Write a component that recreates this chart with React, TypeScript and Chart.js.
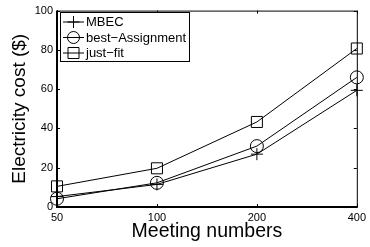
import React, { useEffect, useRef } from "react";
import { Chart, registerables } from "chart.js";

Chart.register(...registerables);

const categories = ["50", "100", "200", "400"];
const mbec = [5.3, 11.5, 26.9, 59.4];
const bestAssignment = [4.2, 12.3, 31, 66];
const justFit = [10.5, 19.7, 43.3, 80.7];
const seriesNames = ["MBEC", "best\u2212Assignment", "just\u2212fit"];
const pointStyles = ["cross", "circle", "rect"];
const pointRadii = [6, 6.5, 7.8];
const yTicks = [0, 20, 40, 60, 80, 100];

const FONT = "'Liberation Sans', Arial, Helvetica, sans-serif";

const boxPlugin = {
  id: "matlabBox",
  afterDatasetsDraw(chart: any) {
    const { ctx, chartArea } = chart;
    const { left, right, top, bottom } = chartArea;
    const xs = chart.scales.x;
    const ys = chart.scales.y;
    ctx.save();
    ctx.strokeStyle = "#000";
    // box
    ctx.lineWidth = 1;
    ctx.beginPath();
    ctx.moveTo(left, top + 0.5);
    ctx.lineTo(right + 0.5, top + 0.5);
    ctx.lineTo(right + 0.5, bottom);
    ctx.stroke();
    ctx.lineWidth = 2;
    ctx.beginPath();
    ctx.moveTo(left, top);
    ctx.lineTo(left, bottom);
    ctx.lineTo(right + 1, bottom);
    ctx.stroke();
    // inward ticks
    ctx.lineWidth = 1;
    const tl = 3;
    ctx.beginPath();
    yTicks.forEach((v) => {
      const y = Math.round(ys.getPixelForValue(v)) + 0.5;
      ctx.moveTo(left, y);
      ctx.lineTo(left + tl, y);
      ctx.moveTo(right, y);
      ctx.lineTo(right - tl, y);
    });
    categories.forEach((_, i) => {
      const x = Math.round(xs.getPixelForTick(i)) + 0.5;
      ctx.moveTo(x, bottom);
      ctx.lineTo(x, bottom - tl);
      ctx.moveTo(x, top);
      ctx.lineTo(x, top + tl);
    });
    ctx.stroke();

    // legend
    const lx = 60.5, ly = 12.5, lw = 129, lh = 49;
    ctx.fillStyle = "#fff";
    ctx.fillRect(lx, ly, lw, lh);
    ctx.strokeRect(lx, ly, lw, lh);
    const rows = [22, 37.5, 53];
    ctx.font = "13px " + FONT;
    ctx.textBaseline = "middle";
    ctx.textAlign = "left";
    rows.forEach((ry, i) => {
      ctx.beginPath();
      ctx.moveTo(63, ry);
      ctx.lineTo(84, ry);
      ctx.stroke();
      const cx = 73.5;
      ctx.beginPath();
      if (pointStyles[i] === "cross") {
        ctx.moveTo(cx - 6, ry);
        ctx.lineTo(cx + 6, ry);
        ctx.moveTo(cx, ry - 6);
        ctx.lineTo(cx, ry + 6);
      } else if (pointStyles[i] === "circle") {
        ctx.arc(cx, ry, 6, 0, Math.PI * 2);
      } else {
        ctx.rect(cx - 5.5, ry - 5.5, 11, 11);
      }
      ctx.stroke();
      ctx.fillStyle = "#000";
      ctx.fillText(seriesNames[i], 86, ry + 0.5);
    });
    ctx.restore();
  },
};

export default function App() {
  const ref = useRef<HTMLCanvasElement | null>(null);
  useEffect(() => {
    document.body.style.margin = "0";
    const canvas = ref.current;
    if (!canvas) return;
    const values = [mbec, bestAssignment, justFit];
    const chart = new Chart(canvas, {
      type: "line",
      data: {
        labels: categories,
        datasets: values.map((d, i) => ({
          label: seriesNames[i],
          data: d,
          borderColor: "#000",
          borderWidth: 1,
          backgroundColor: "transparent",
          pointStyle: pointStyles[i] as any,
          pointRadius: pointRadii[i],
          pointBorderColor: "#000",
          pointBorderWidth: 1,
          pointBackgroundColor: "transparent",
          tension: 0,
          clip: false as any,
        })),
      },
      options: {
        animation: false,
        responsive: false,
        devicePixelRatio: 1,
        layout: { padding: { left: 0, right: 10, top: 10, bottom: 0 } },
        plugins: { legend: { display: false }, tooltip: { enabled: false } },
        scales: {
          x: {
            type: "category",
            offset: false,
            grid: { display: false, drawTicks: false },
            border: { display: false },
            ticks: {
              color: "#000",
              font: { family: FONT, size: 11 },
              padding: 4,
              maxRotation: 0,
              autoSkip: false,
            },
            title: {
              display: true,
              text: "Meeting numbers",
              color: "#000",
              font: { family: FONT, size: 19.5 },
              padding: { top: 0, bottom: 4 },
            },
            afterFit: (s: any) => {
              s.height = 40;
            },
          },
          y: {
            min: 0,
            max: 100,
            grid: { display: false, drawTicks: false },
            border: { display: false },
            afterBuildTicks: (s: any) => {
              s.ticks = yTicks.map((v) => ({ value: v }));
            },
            ticks: {
              color: "#000",
              font: { family: FONT, size: 11 },
              padding: 4,
            },
            title: {
              display: true,
              text: "Electricity cost ($)",
              color: "#000",
              font: { family: FONT, size: 19 },
              padding: { top: 8, bottom: 0 },
            },
            afterFit: (s: any) => {
              s.width = 57;
            },
          },
        },
      },
      plugins: [boxPlugin],
    });
    return () => chart.destroy();
  }, []);
  return (
    <div style={{ position: "fixed", left: 0, top: 0, width: 370, height: 247, background: "#fff" }}>
      <canvas ref={ref} width={370} height={247} />
    </div>
  );
}
